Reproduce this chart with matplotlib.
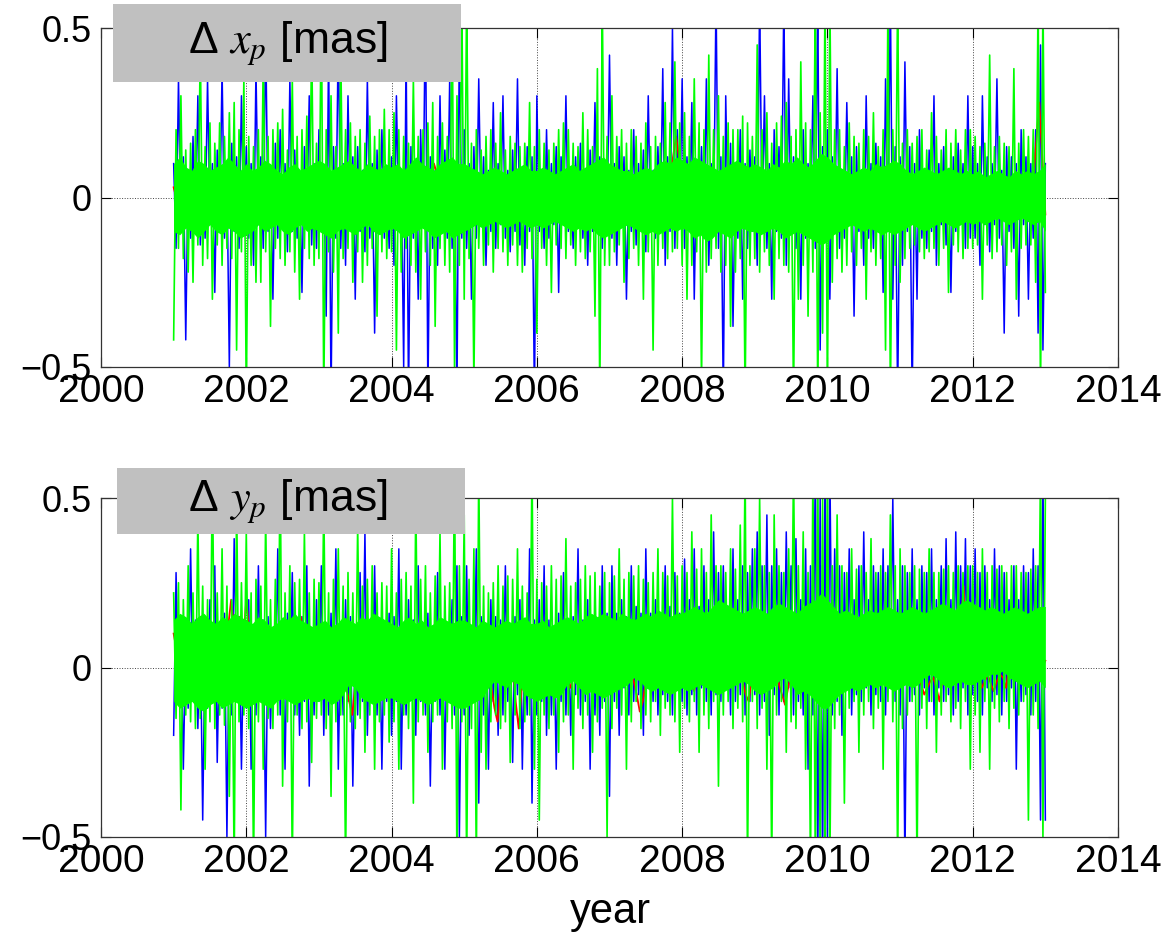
import numpy as np
import matplotlib
matplotlib.use("Agg")
import matplotlib.pyplot as plt
from matplotlib.patches import Rectangle

plt.rcParams['font.family'] = ['Liberation Sans', 'DejaVu Sans']
plt.rcParams['mathtext.fontset'] = 'stix'

# samples 2001.0 .. 2013.0, values in mas
# --- x_p panel ---
xp_blue = [
    0.1, -0.15, 0.35, -0.08, 0.12, -0.42, 0.08, -0.12, 0.18, -0.1, 0.3, -0.14, 0.06, -0.12, 0.35, -0.08, 0.1, -0.28, 0.14, -0.1, 0.38, -0.12, 0.08, -0.5, 0.16, -0.1, 0.12, -0.15, 0.3, -0.08,
    0.15, -0.12, 0.1, -0.2, 0.38, -0.08, 0.12, -0.15, 0.5, -0.1, 0.08, -0.3, 0.16, -0.12, 0.2, -0.08, 0.1, -0.16, 0.35, -0.1, 0.14, -0.12, 0.08, -0.28, 0.15, -0.08, 0.3, -0.14, 0.1, -0.15,
    0.2, -0.1, 0.08, -0.35, 0.45, -0.6, 0.15, -0.12, 0.5, -0.15, 0.1, -0.2, 0.3, -0.08, 0.12, -0.3, 0.15, -0.1, 0.08, -0.16, 0.35, -0.12, 0.1, -0.4, 0.14, -0.08, 0.2, -0.12, 0.08, -0.15,
    0.12, -0.2, 0.3, -0.1, 0.08, -0.5, 0.45, -0.6, 0.15, -0.12, 0.1, -0.3, 0.2, -0.08, 0.6, -0.6, 0.12, -0.15, 0.08, -0.2, 0.3, -0.1, 0.14, -0.12, 0.35, -0.15, 0.1, -0.6, 0.5, -0.12,
    0.2, -0.15, 0.1, -0.3, 0.15, -0.12, 0.35, -0.08, 0.12, -0.2, 0.08, -0.1, 0.28, -0.15, 0.1, -0.08, 0.3, -0.12, 0.08, -0.16, 0.14, -0.1, 0.35, -0.14, 0.08, -0.2, 0.15, -0.1, 0.12, -0.6,
    0.3, -0.1, 0.08, -0.15, 0.2, -0.12, 0.1, -0.08, 0.15, -0.28, 0.12, -0.08, 0.3, -0.1, 0.08, -0.15, 0.12, -0.08, 0.16, -0.12, 0.08, -0.2, 0.14, -0.1, 0.28, -0.08, 0.12, -0.15, 0.1, -0.08,
    0.42, -0.12, 0.1, -0.2, 0.15, -0.08, 0.12, -0.3, 0.08, -0.1, 0.2, -0.14, 0.1, -0.08, 0.14, -0.16, 0.3, -0.1, 0.08, -0.12, 0.15, -0.08, 0.38, -0.2, 0.12, -0.1, 0.5, -0.15, 0.2, -0.08,
    0.35, -0.15, 0.12, -0.1, 0.28, -0.3, 0.1, -0.08, 0.15, -0.12, 0.35, -0.2, 0.1, -0.08, 0.6, -0.15, 0.12, -0.6, 0.3, -0.1, 0.16, -0.38, 0.08, -0.12, 0.2, -0.3, 0.1, -0.15, 0.14, -0.1,
    0.12, -0.2, 0.6, -0.08, 0.3, -0.15, 0.1, -0.3, 0.2, -0.1, 0.15, -0.12, 0.6, -0.2, 0.35, -0.1, 0.12, -0.15, 0.08, -0.3, 0.2, -0.12, 0.1, -0.08, 0.3, -0.15, 0.6, -0.45, 0.15, -0.12,
    0.2, -0.3, 0.12, -0.1, 0.38, -0.15, 0.08, -0.12, 0.28, -0.08, 0.12, -0.35, 0.15, -0.1, 0.08, -0.2, 0.3, -0.12, 0.1, -0.15, 0.16, -0.08, 0.12, -0.28, 0.35, -0.1, 0.6, -0.3, 0.15, -0.6,
    0.12, -0.2, 0.4, -0.1, 0.15, -0.6, 0.1, -0.3, 0.2, -0.12, 0.08, -0.15, 0.14, -0.1, 0.3, -0.2, 0.1, -0.08, 0.15, -0.14, 0.08, -0.28, 0.12, -0.1, 0.16, -0.08, 0.1, -0.15, 0.3, -0.12,
    0.15, -0.12, 0.1, -0.2, 0.3, -0.08, 0.12, -0.16, 0.1, -0.08, 0.35, -0.12, 0.08, -0.4, 0.15, -0.1, 0.12, -0.15, 0.1, -0.35, 0.2, -0.08, 0.12, -0.3, 0.1, -0.12, 0.2, -0.4, 0.45, -0.45,
    0.1,
]
xp_red = [
    0.03, -0.04, 0.06, -0.02, 0.05, -0.05, 0.02, 0.04, -0.03, 0.05, -0.02, 0.03,
    -0.04, 0.02, 0.05, -0.03, 0.04, -0.05, 0.03, 0.02, -0.04, 0.06, -0.02, 0.03,
    -0.03, 0.05, -0.04, 0.02, 0.08, -0.03, 0.04, -0.05, 0.02, 0.03, -0.04, 0.05,
    0.02, -0.03, 0.04, 0.06, -0.02, 0.03, -0.05, 0.1, 0.04, -0.03, 0.05, -0.02,
    0.03, -0.04, 0.02, 0.05, -0.03, 0.04, -0.02, 0.03, 0.05, -0.04, 0.02, 0.03,
    -0.03, 0.04, -0.02, 0.05, 0.02, -0.04, 0.03, -0.02, 0.04, -0.03, 0.05, 0.02,
    -0.04, 0.03, 0.05, -0.02, 0.04, -0.03, 0.02, 0.05, -0.04, 0.03, 0.06, 0.18,
    0.05, -0.03, 0.04, 0.02, -0.04, 0.05, -0.02, 0.03, -0.05, 0.04, 0.02, -0.03,
    0.04, -0.02, 0.03, -0.05, 0.05, 0.02, -0.03, 0.04, -0.02, 0.03, 0.05, -0.04,
    0.02, -0.03, 0.05, 0.03, -0.04, 0.02, -0.05, 0.04, 0.03, -0.02, 0.05, -0.03,
    0.04, -0.02, 0.03, 0.05, -0.03, -0.08, 0.02, 0.04, -0.03, 0.05, 0.02, -0.04,
    0.03, -0.02, 0.05, -0.04, 0.02, 0.06, -0.03, 0.04, -0.02, 0.03, 0.05, 0.28,
    -0.05,
]
xp_green = [
    -0.42, 0.2, -0.15, 0.3, -0.18, 0.14, -0.22, 0.16, -0.25, 0.2, -0.14, 0.45, -0.2, 0.15, -0.18, 0.22, -0.3, 0.16, -0.14, 0.22, -0.2, 0.18, -0.15, 0.25, -0.18, 0.28, -0.45, 0.2, -0.16, 0.35,
    -0.6, 0.18, -0.2, 0.15, -0.25, 0.2, -0.25, 0.42, -0.16, 0.18, -0.38, 0.2, -0.15, 0.22, -0.18, 0.26, -0.2, 0.14, -0.16, 0.35, -0.22, 0.18, -0.3, 0.2, -0.15, 0.24, -0.18, 0.48, -0.2, 0.16,
    -0.18, 0.6, -0.6, 0.2, -0.16, 0.3, -0.22, 0.15, -0.4, 0.45, -0.18, 0.2, -0.15, 0.22, -0.25, 0.18, -0.16, 0.2, -0.25, 0.16, -0.2, 0.24, -0.15, 0.18, -0.35, 0.2, -0.16, 0.26, -0.18, 0.2,
    -0.16, 0.25, -0.45, 0.2, -0.22, 0.18, -0.15, 0.16, -0.2, 0.35, -0.22, 0.18, -0.3, 0.2, -0.16, 0.22, -0.2, 0.28, -0.38, 0.18, -0.15, 0.22, -0.2, 0.18, -0.22, 0.6, -0.5, 0.3, -0.2, 0.6,
    -0.3, 0.6, -0.18, 0.16, -0.55, 0.2, -0.15, 0.14, -0.2, 0.18, -0.14, 0.2, -0.22, 0.16, -0.15, 0.25, -0.16, 0.14, -0.2, 0.18, -0.14, 0.16, -0.2, 0.15, -0.22, 0.16, -0.15, 0.28, -0.18, 0.15,
    -0.4, 0.2, -0.15, 0.16, -0.2, 0.14, -0.28, 0.16, -0.14, 0.2, -0.15, 0.22, -0.18, 0.2, -0.14, 0.16, -0.2, 0.15, -0.16, 0.25, -0.18, 0.2, -0.16, 0.15, -0.35, 0.38, -0.6, 0.6, -0.2, 0.18,
    -0.2, 0.3, -0.16, 0.18, -0.14, 0.2, -0.25, 0.16, -0.18, 0.2, -0.15, 0.18, -0.2, 0.16, -0.3, 0.22, -0.16, 0.15, -0.45, 0.18, -0.2, 0.16, -0.15, 0.28, -0.18, 0.22, -0.16, 0.4, -0.15, 0.22,
    -0.2, 0.25, -0.3, 0.18, -0.2, 0.35, -0.16, 0.22, -0.55, 0.2, -0.22, 0.42, -0.18, 0.2, -0.15, 0.3, -0.22, 0.18, -0.2, 0.22, -0.38, 0.2, -0.22, 0.2, -0.18, 0.24, -0.6, 0.22, -0.2, 0.18,
    -0.18, 0.45, -0.22, 0.2, -0.16, 0.25, -0.2, 0.16, -0.3, 0.22, -0.18, 0.24, -0.2, 0.28, -0.22, 0.18, -0.6, 0.2, -0.3, 0.4, -0.2, 0.22, -0.35, 0.2, -0.22, 0.6, -0.6, 0.25, -0.4, 0.6,
    -0.6, 0.6, -0.25, 0.2, -0.18, 0.2, -0.22, 0.15, -0.2, 0.22, -0.16, 0.18, -0.2, 0.16, -0.15, 0.2, -0.3, 0.18, -0.16, 0.25, -0.2, 0.15, -0.18, 0.2, -0.45, 0.6, -0.6, 0.2, -0.2, 0.6,
    -0.25, 0.16, -0.18, 0.2, -0.15, 0.16, -0.14, 0.18, -0.16, 0.2, -0.18, 0.14, -0.16, 0.25, -0.15, 0.18, -0.2, 0.14, -0.15, 0.2, -0.28, 0.16, -0.14, 0.2, -0.16, 0.14, -0.18, 0.2, -0.15, 0.2,
    -0.15, 0.18, -0.14, 0.15, -0.3, 0.16, -0.14, 0.42, -0.18, 0.15, -0.16, 0.18, -0.14, 0.16, -0.2, 0.15, -0.16, 0.38, -0.3, 0.16, -0.15, 0.2, -0.14, 0.18, -0.14, 0.2, -0.25, 0.6, -0.6, 0.6,
    -0.28,
]
# solid core of the green trace (monthly upper / lower edge)
xp_core_hi = [
    0.1, 0.12, 0.09, 0.08, 0.11, 0.1, 0.08, 0.09, 0.1, 0.12, 0.1, 0.08,
    0.1, 0.08, 0.09, 0.11, 0.1, 0.08, 0.07, 0.09, 0.1, 0.08, 0.09, 0.1,
    0.11, 0.1, 0.08, 0.09, 0.1, 0.11, 0.09, 0.08, 0.1, 0.09, 0.08, 0.1,
    0.09, 0.1, 0.08, 0.1, 0.12, 0.1, 0.09, 0.08, 0.1, 0.11, 0.12, 0.1,
    0.1, 0.09, 0.08, 0.07, 0.08, 0.09, 0.08, 0.07, 0.08, 0.09, 0.1, 0.08,
    0.08, 0.09, 0.08, 0.07, 0.08, 0.09, 0.1, 0.08, 0.09, 0.1, 0.11, 0.12,
    0.1, 0.09, 0.08, 0.08, 0.07, 0.08, 0.09, 0.08, 0.1, 0.11, 0.1, 0.12,
    0.11, 0.1, 0.12, 0.11, 0.1, 0.09, 0.08, 0.09, 0.1, 0.11, 0.1, 0.09,
    0.1, 0.09, 0.08, 0.1, 0.09, 0.11, 0.1, 0.12, 0.1, 0.09, 0.11, 0.13,
    0.12, 0.1, 0.09, 0.08, 0.07, 0.08, 0.09, 0.08, 0.1, 0.09, 0.1, 0.11,
    0.1, 0.08, 0.07, 0.08, 0.09, 0.08, 0.07, 0.08, 0.09, 0.08, 0.07, 0.08,
    0.07, 0.08, 0.06, 0.07, 0.08, 0.07, 0.06, 0.08, 0.07, 0.08, 0.07, 0.08,
    0.1,
]
xp_core_lo = [
    -0.1, -0.11, -0.09, -0.1, -0.12, -0.1, -0.08, -0.1, -0.11, -0.09, -0.1, -0.12,
    -0.11, -0.1, -0.08, -0.1, -0.09, -0.08, -0.1, -0.11, -0.09, -0.08, -0.1, -0.09,
    -0.1, -0.11, -0.12, -0.1, -0.09, -0.1, -0.11, -0.09, -0.08, -0.1, -0.11, -0.1,
    -0.09, -0.1, -0.12, -0.11, -0.1, -0.09, -0.1, -0.12, -0.11, -0.1, -0.12, -0.11,
    -0.1, -0.09, -0.08, -0.09, -0.08, -0.07, -0.08, -0.09, -0.08, -0.07, -0.08, -0.09,
    -0.08, -0.09, -0.08, -0.07, -0.08, -0.09, -0.1, -0.09, -0.1, -0.09, -0.11, -0.12,
    -0.11, -0.1, -0.09, -0.08, -0.09, -0.1, -0.11, -0.1, -0.11, -0.1, -0.09, -0.1,
    -0.09, -0.1, -0.12, -0.11, -0.13, -0.12, -0.1, -0.11, -0.12, -0.1, -0.09, -0.1,
    -0.1, -0.11, -0.1, -0.09, -0.1, -0.12, -0.11, -0.1, -0.11, -0.12, -0.13, -0.14,
    -0.13, -0.11, -0.1, -0.09, -0.08, -0.09, -0.1, -0.09, -0.1, -0.11, -0.1, -0.11,
    -0.1, -0.09, -0.08, -0.09, -0.1, -0.09, -0.08, -0.07, -0.08, -0.09, -0.08, -0.07,
    -0.08, -0.07, -0.08, -0.07, -0.06, -0.07, -0.08, -0.07, -0.06, -0.07, -0.08, -0.07,
    -0.1,
]

# --- y_p panel ---
yp_blue = [
    -0.2, 0.28, -0.1, 0.15, -0.3, 0.08, -0.12, 0.35, -0.08, 0.14, -0.18, 0.12, -0.45, 0.1, -0.12, 0.2, -0.1, 0.3, -0.28, 0.1, -0.12, 0.16, -0.5, 0.12, -0.14, 0.38, -0.08, 0.15, -0.3, 0.12,
    -0.12, 0.2, -0.3, 0.1, -0.14, 0.3, -0.1, 0.14, -0.5, 0.15, -0.18, 0.1, -0.1, 0.35, -0.14, 0.12, -0.3, 0.16, -0.08, 0.28, -0.14, 0.12, -0.2, 0.15, -0.1, 0.3, -0.35, 0.1, -0.14, 0.2,
    -0.1, 0.3, -0.2, 0.12, -0.14, 0.16, -0.08, 0.35, -0.3, 0.12, -0.14, 0.2, -0.1, 0.15, -0.35, 0.1, -0.14, 0.28, -0.1, 0.4, -0.2, 0.12, -0.08, 0.3, -0.14, 0.14, -0.3, 0.12, -0.1, 0.16,
    -0.2, 0.15, -0.1, 0.35, -0.3, 0.12, -0.14, 0.2, -0.08, 0.14, -0.2, 0.3, -0.1, 0.12, -0.14, 0.16, -0.35, 0.1, -0.1, 0.28, -0.14, 0.14, -0.3, 0.12, -0.1, 0.2, -0.14, 0.3, -0.5, 0.15,
    -0.14, 0.3, -0.2, 0.12, -0.1, 0.35, -0.4, 0.15, -0.14, 0.12, -0.3, 0.2, -0.1, 0.15, -0.2, 0.14, -0.14, 0.3, -0.1, 0.12, -0.28, 0.15, -0.08, 0.2, -0.3, 0.12, -0.14, 0.35, -0.4, 0.14,
    -0.14, 0.2, -0.1, 0.3, -0.2, 0.14, -0.14, 0.12, -0.3, 0.16, -0.1, 0.28, -0.14, 0.12, -0.2, 0.15, -0.08, 0.35, -0.14, 0.14, -0.1, 0.2, -0.3, 0.15, -0.14, 0.12, -0.2, 0.3, -0.1, 0.16,
    -0.38, 0.3, -0.1, 0.16, -0.2, 0.2, -0.06, 0.15, -0.14, 0.3, -0.1, 0.18, -0.08, 0.16, -0.2, 0.35, -0.06, 0.16, -0.1, 0.2, -0.14, 0.15, -0.08, 0.3, -0.1, 0.18, -0.14, 0.28, -0.06, 0.16,
    -0.1, 0.32, -0.14, 0.2, -0.08, 0.35, -0.14, 0.18, -0.06, 0.3, -0.1, 0.2, -0.14, 0.4, -0.08, 0.28, -0.1, 0.3, -0.06, 0.18, -0.14, 0.35, -0.1, 0.2, -0.08, 0.3, -0.14, 0.28, -0.1, 0.35,
    -0.08, 0.4, -0.14, 0.3, -0.1, 0.45, -0.2, 0.3, -0.08, 0.35, -0.14, 0.28, -0.1, 0.4, -0.06, 0.3, -0.14, 0.38, -0.1, 0.2, -0.14, 0.35, -0.3, 0.3, -0.14, 0.6, -0.6, 0.5, -0.6, 0.6,
    -0.5, 0.6, -0.14, 0.35, -0.1, 0.3, -0.2, 0.28, -0.06, 0.35, -0.14, 0.2, -0.08, 0.3, -0.1, 0.4, -0.06, 0.2, -0.14, 0.3, -0.08, 0.28, -0.1, 0.35, -0.14, 0.3, -0.06, 0.5, -0.1, 0.2,
    -0.14, 0.3, -0.6, 0.28, -0.1, 0.35, -0.08, 0.2, -0.14, 0.3, -0.06, 0.28, -0.1, 0.35, -0.14, 0.2, -0.06, 0.3, -0.1, 0.38, -0.08, 0.2, -0.14, 0.4, -0.1, 0.3, -0.06, 0.38, -0.14, 0.3,
    -0.08, 0.35, -0.1, 0.28, -0.14, 0.3, -0.06, 0.2, -0.1, 0.35, -0.08, 0.3, -0.14, 0.28, -0.1, 0.2, -0.06, 0.3, -0.3, 0.2, -0.1, 0.3, -0.08, 0.28, -0.14, 0.35, -0.1, 0.3, -0.45, 0.6,
    -0.45,
]
yp_red = [
    0.1, 0.05, -0.02, 0.08, 0.12, 0.03, -0.04, 0.06, 0.1, 0.15, 0.05, 0.02, -0.03, 0.05, 0.1, 0.06, 0.0, 0.08, 0.12, 0.2, 0.1, 0.05, 0.15, 0.08,
    0.2, 0.1, 0.04, -0.02, 0.05, 0.1, 0.06, 0.0, -0.04, 0.03, 0.08, 0.05, -0.02, 0.04, 0.1, 0.06, 0.02, 0.12, 0.15, 0.08, 0.05, 0.1, 0.04, -0.02,
    0.03, 0.08, 0.05, -0.04, 0.02, 0.06, 0.1, -0.02, 0.0, -0.06, -0.1, -0.14, -0.05, 0.05, 0.03, -0.02, 0.04, 0.08, 0.06, 0.02, 0.05, 0.12, 0.1, 0.04,
    0.02, 0.06, 0.1, 0.04, -0.02, 0.05, 0.08, 0.03, -0.03, 0.02, 0.06, 0.04, -0.05, -0.02, 0.05, 0.08, 0.03, -0.02, 0.04, 0.06, 0.02, 0.1, 0.05, 0.0,
    0.04, -0.02, 0.05, 0.08, 0.02, -0.05, 0.03, 0.06, 0.0, -0.06, -0.12, -0.16, -0.05, 0.02, -0.03, 0.05, 0.02, -0.1, -0.18, -0.06, 0.03, 0.05, 0.02, -0.03,
    0.04, 0.02, -0.03, 0.05, 0.03, -0.02, 0.04, 0.0, -0.03, 0.02, -0.04, -0.06, -0.03, 0.02, 0.04, 0.01, -0.02, 0.03, 0.05, 0.02, -0.02, 0.03, 0.01, -0.03,
    0.02, -0.03, -0.04, -0.02, 0.02, -0.03, -0.02, 0.0, -0.04, -0.08, -0.13, -0.1, -0.04, 0.02, -0.02, -0.05, 0.0, 0.03, -0.02, 0.01, -0.04, -0.02, 0.02, 0.0,
    -0.02, 0.02, 0.0, -0.04, -0.07, -0.02, 0.01, -0.03, 0.02, 0.0, -0.02, 0.03, -0.01, 0.02, -0.03, 0.01, 0.03, -0.02, 0.0, 0.02, -0.04, -0.08, -0.1, -0.03,
    0.0, -0.04, -0.02, 0.02, -0.03, 0.01, -0.02, 0.03, -0.05, -0.08, -0.11, -0.06, -0.02, 0.02, 0.05, 0.0, -0.03, 0.02, 0.04, 0.01, -0.02, 0.03, 0.08, 0.05,
    0.03, 0.08, 0.15, 0.04, -0.03, 0.02, 0.01, -0.02, 0.03, 0.0, -0.02, -0.05, -0.03, 0.01, -0.02, 0.02, 0.0, -0.03, 0.02, 0.01, -0.02, 0.03, 0.0, -0.02,
    0.01, -0.03, 0.02, 0.0, -0.02, 0.03, -0.03, -0.05, -0.08, -0.06, -0.04, -0.03, -0.06, -0.1, -0.04, 0.0, 0.02, -0.02, 0.04, 0.1, 0.12, 0.24, 0.05, 0.0,
    -0.02, 0.02, -0.03, -0.06, -0.04, -0.02, -0.05, -0.07, -0.04, -0.02, -0.03, -0.06, 0.0, -0.02, 0.01, -0.03, 0.0, 0.02, -0.02, 0.01, 0.03, -0.02, 0.02, 0.0,
    0.02,
]
yp_green = [
    0.22, -0.15, 0.25, -0.42, 0.2, -0.14, 0.3, -0.16, 0.22, -0.18, 0.45, -0.15, 0.24, -0.3, 0.2, -0.16, 0.6, -0.18, 0.22, -0.14, 0.35, -0.17, 0.24, -0.38, 0.2, -0.6, 0.5, -0.16, 0.25, -0.14,
    0.4, -0.18, 0.22, -0.6, 0.26, -0.16, 0.24, -0.3, 0.45, -0.15, 0.2, -0.18, 0.26, -0.14, 0.6, -0.35, 0.22, -0.16, 0.3, -0.6, 0.25, -0.14, 0.26, -0.18, 0.4, -0.16, 0.22, -0.28, 0.26, -0.15,
    0.25, -0.14, 0.5, -0.18, 0.22, -0.38, 0.26, -0.16, 0.35, -0.14, 0.24, -0.6, 0.28, -0.16, 0.22, -0.18, 0.42, -0.15, 0.24, -0.25, 0.26, -0.14, 0.3, -0.3, 0.22, -0.16, 0.25, -0.14, 0.24, -0.22,
    0.35, -0.16, 0.22, -0.3, 0.26, -0.14, 0.28, -0.18, 0.24, -0.4, 0.5, -0.16, 0.26, -0.14, 0.3, -0.25, 0.22, -0.16, 0.27, -0.14, 0.4, -0.3, 0.24, -0.16, 0.25, -0.18, 0.6, -0.6, 0.3, -0.16,
    0.45, -0.6, 0.26, -0.18, 0.35, -0.6, 0.6, -0.25, 0.24, -0.3, 0.22, -0.16, 0.25, -0.14, 0.3, -0.18, 0.24, -0.16, 0.27, -0.28, 0.26, -0.14, 0.35, -0.18, 0.24, -0.16, 0.22, -0.14, 0.6, -0.3,
    0.26, -0.45, 0.25, -0.14, 0.24, -0.18, 0.3, -0.14, 0.26, -0.25, 0.27, -0.16, 0.38, -0.14, 0.24, -0.3, 0.25, -0.12, 0.26, -0.18, 0.3, -0.14, 0.27, -0.25, 0.28, -0.16, 0.24, -0.12, 0.28, -0.5,
    0.25, -0.18, 0.27, -0.12, 0.35, -0.14, 0.26, -0.3, 0.28, -0.16, 0.27, -0.1, 0.3, -0.18, 0.26, -0.14, 0.25, -0.16, 0.28, -0.1, 0.35, -0.2, 0.28, -0.12, 0.27, -0.14, 0.5, -0.16, 0.27, -0.25,
    0.3, -0.12, 0.28, -0.16, 0.4, -0.1, 0.29, -0.25, 0.35, -0.14, 0.28, -0.18, 0.45, -0.1, 0.3, -0.35, 0.3, -0.14, 0.28, -0.1, 0.35, -0.18, 0.29, -0.12, 0.42, -0.16, 0.6, -0.6, 0.3, -0.1,
    0.35, -0.18, 0.5, -0.12, 0.3, -0.3, 0.28, -0.6, 0.45, -0.14, 0.3, -0.1, 0.28, -0.25, 0.35, -0.16, 0.6, -0.18, 0.3, -0.12, 0.4, -0.3, 0.28, -0.6, 0.6, -0.6, 0.6, -0.6, 0.5, -0.6,
    0.6, -0.6, 0.3, -0.18, 0.45, -0.14, 0.3, -0.4, 0.28, -0.12, 0.35, -0.1, 0.29, -0.25, 0.3, -0.14, 0.28, -0.1, 0.38, -0.18, 0.28, -0.12, 0.3, -0.3, 0.28, -0.1, 0.45, -0.16, 0.3, -0.6,
    0.35, -0.18, 0.3, -0.14, 0.28, -0.1, 0.3, -0.6, 0.29, -0.12, 0.28, -0.18, 0.35, -0.1, 0.28, -0.25, 0.28, -0.14, 0.29, -0.1, 0.3, -0.16, 0.28, -0.12, 0.3, -0.18, 0.28, -0.1, 0.3, -0.3,
    0.3, -0.14, 0.28, -0.25, 0.35, -0.1, 0.28, -0.3, 0.3, -0.12, 0.29, -0.16, 0.3, -0.1, 0.28, -0.18, 0.3, -0.12, 0.3, -0.14, 0.28, -0.1, 0.28, -0.45, 0.29, -0.14, 0.3, -0.18, 0.6, -0.5,
    0.5,
]
yp_core_hi = [
    0.14, 0.16, 0.15, 0.13, 0.15, 0.16, 0.14, 0.13, 0.15, 0.14, 0.16, 0.15,
    0.14, 0.13, 0.15, 0.14, 0.12, 0.13, 0.15, 0.14, 0.16, 0.14, 0.13, 0.12,
    0.13, 0.14, 0.12, 0.13, 0.15, 0.14, 0.13, 0.15, 0.14, 0.16, 0.15, 0.14,
    0.13, 0.12, 0.14, 0.15, 0.13, 0.14, 0.12, 0.13, 0.15, 0.14, 0.13, 0.14,
    0.14, 0.13, 0.12, 0.14, 0.13, 0.12, 0.13, 0.14, 0.13, 0.14, 0.15, 0.13,
    0.13, 0.14, 0.12, 0.13, 0.14, 0.15, 0.14, 0.13, 0.15, 0.16, 0.15, 0.16,
    0.15, 0.14, 0.16, 0.15, 0.14, 0.15, 0.16, 0.15, 0.17, 0.16, 0.15, 0.16,
    0.16, 0.17, 0.18, 0.17, 0.16, 0.18, 0.2, 0.19, 0.18, 0.17, 0.16, 0.17,
    0.18, 0.17, 0.16, 0.18, 0.19, 0.18, 0.17, 0.16, 0.18, 0.19, 0.2, 0.22,
    0.2, 0.18, 0.16, 0.17, 0.16, 0.15, 0.16, 0.17, 0.16, 0.17, 0.18, 0.17,
    0.16, 0.17, 0.18, 0.17, 0.16, 0.17, 0.18, 0.19, 0.18, 0.17, 0.19, 0.2,
    0.19, 0.18, 0.17, 0.18, 0.17, 0.16, 0.17, 0.18, 0.17, 0.16, 0.17, 0.18,
    0.18,
]
yp_core_lo = [
    -0.1, -0.12, -0.11, -0.1, -0.12, -0.13, -0.11, -0.1, -0.12, -0.11, -0.1, -0.11,
    -0.12, -0.11, -0.1, -0.11, -0.12, -0.1, -0.09, -0.1, -0.11, -0.1, -0.09, -0.1,
    -0.1, -0.09, -0.11, -0.1, -0.08, -0.05, -0.06, -0.09, -0.1, -0.11, -0.1, -0.09,
    -0.09, -0.1, -0.11, -0.1, -0.09, -0.1, -0.11, -0.1, -0.09, -0.1, -0.11, -0.12,
    -0.12, -0.11, -0.1, -0.09, -0.06, -0.04, -0.05, -0.06, -0.04, -0.05, -0.08, -0.09,
    -0.1, -0.09, -0.08, -0.09, -0.08, -0.05, -0.04, -0.06, -0.08, -0.07, -0.08, -0.09,
    -0.08, -0.07, -0.06, -0.05, -0.03, -0.04, -0.06, -0.07, -0.06, -0.07, -0.08, -0.07,
    -0.06, -0.07, -0.06, -0.05, -0.06, -0.07, -0.08, -0.07, -0.06, -0.05, -0.04, -0.05,
    -0.07, -0.08, -0.07, -0.06, -0.04, -0.03, -0.05, -0.08, -0.07, -0.08, -0.1, -0.12,
    -0.12, -0.1, -0.08, -0.07, -0.06, -0.07, -0.06, -0.05, -0.06, -0.05, -0.06, -0.07,
    -0.06, -0.05, -0.06, -0.05, -0.03, -0.02, -0.03, -0.05, -0.06, -0.05, -0.04, -0.05,
    -0.05, -0.04, -0.03, -0.02, -0.02, -0.01, -0.03, -0.04, -0.05, -0.06, -0.05, -0.04,
    -0.06,
]

panels = [
    (xp_blue, xp_red, xp_green, xp_core_lo, xp_core_hi, r'Δ $x_p$ [mas]'),
    (yp_blue, yp_red, yp_green, yp_core_lo, yp_core_hi, r'Δ $y_p$ [mas]'),
]
year_ticks = list(range(2000, 2015, 2))

W, H = 1170, 936
fig = plt.figure(figsize=(W / 100, H / 100), dpi=100)
ax_rects = [
    [101 / W, 1 - 367 / H, 1017 / W, 339 / H],
    [101 / W, 1 - 837 / H, 1017 / W, 339 / H],
]
# grey label boxes (pixels: left, top, right, bottom)
boxes = [(113, 4, 461, 82), (117, 468, 465, 534)]

for (blue, red, green, lo, hi, label), rect, box in zip(panels, ax_rects, boxes):
    ax = fig.add_axes(rect)
    ax.plot(np.linspace(2001, 2013, len(blue)), blue, color='#0000ff', lw=1.1, zorder=2)
    ax.plot(np.linspace(2001, 2013, len(red)), red, color='#ff0000', lw=1.3, zorder=2.1)
    tc = np.linspace(2001, 2013, len(hi))
    ax.fill_between(tc, lo, hi, color='#00ff00', lw=0, zorder=2.2)
    ax.plot(np.linspace(2001, 2013, len(green)), green, color='#00ff00', lw=1.2, zorder=2.3)
    ax.set_xlim(2000, 2014)
    ax.set_ylim(-0.5, 0.5)
    ax.set_xticks(year_ticks)
    ax.set_yticks([-0.5, 0, 0.5])
    ax.set_yticklabels(['−0.5', '0', '0.5'])
    ax.set_axisbelow(True)
    ax.tick_params(direction='in', top=True, right=True, length=7, width=0.8)
    ax.tick_params(axis='x', labelsize=28, pad=5)
    ax.tick_params(axis='y', labelsize=26, pad=7)
    ax.grid(True, linestyle=':', color='#444444', lw=0.7)
    for s in ax.spines.values():
        s.set_color('#333333')
        s.set_linewidth(0.9)
        s.set_zorder(3)

    x0, y0, x1, y1 = box
    fig.patches.append(Rectangle((x0 / W, 1 - y1 / H), (x1 - x0) / W, (y1 - y0) / H,
                                 transform=fig.transFigure, facecolor='#c0c0c0',
                                 edgecolor='none', zorder=5))
    fig.text(288 / W, 1 - (y0 + y1) / 2 / H, label, fontsize=32,
             ha='center', va='center', zorder=6)

fig.text(610 / W, 1 - 912 / H, 'year', fontsize=30, ha='center', va='center')

fig.savefig('out.png', dpi=100)
